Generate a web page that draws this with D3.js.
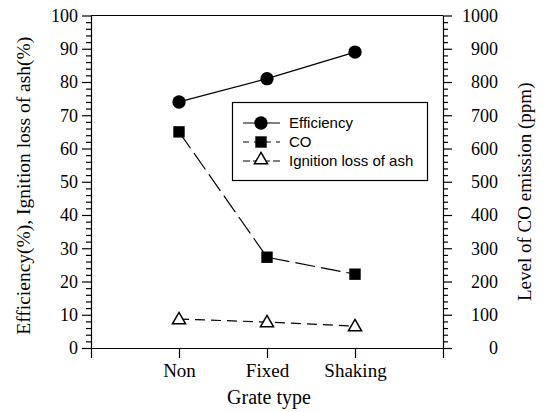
<!DOCTYPE html>
<html>
<head>
<meta charset="utf-8">
<script src="https://cdn.jsdelivr.net/npm/d3@7"></script>
<style>
  body { margin: 0; background: #fff; }
  svg text { font-family: "Liberation Serif", "Times New Roman", serif; fill: #000; }
  svg .legend text { font-family: "Liberation Sans", Arial, sans-serif; }
</style>
</head>
<body>
<div id="chart"></div>
<script>
var categories = ["Non", "Fixed", "Shaking"];
var efficiency = [74, 81, 89];
var co = [650, 273, 222];
var ashLoss = [8.7, 7.8, 6.6];
var leftTicks = [0, 10, 20, 30, 40, 50, 60, 70, 80, 90, 100];
var rightTicks = [0, 100, 200, 300, 400, 500, 600, 700, 800, 900, 1000];

var W = 543, H = 412;
var plot = {left: 91, right: 443, top: 15.5, bottom: 348};

var svg = d3.select("#chart").append("svg")
    .attr("width", W)
    .attr("height", H);

var xScale = d3.scaleLinear().domain([0, 4]).range([plot.left, plot.right]),
    yLeft = d3.scaleLinear().domain([0, 100]).range([plot.bottom, plot.top]),
    yRight = d3.scaleLinear().domain([0, 1000]).range([plot.bottom, plot.top]);

// top frame line
svg.append("line")
   .attr("x1", plot.left).attr("x2", plot.right)
   .attr("y1", plot.top).attr("y2", plot.top)
   .attr("stroke", "#000").attr("stroke-width", 1.2);

// minor ticks
var minorL = d3.range(0, 101, 2).filter(function(d) { return d % 10 != 0; });
var minorR = d3.range(0, 1001, 20).filter(function(d) { return d % 100 != 0; });

svg.append("g")
   .attr("transform", "translate(" + plot.left + ",0)")
   .call(d3.axisLeft(yLeft).tickValues(minorL).tickSize(5).tickFormat(""))
   .call(function(g) { g.select(".domain").remove(); });

svg.append("g")
   .attr("transform", "translate(" + plot.right + ",0)")
   .call(d3.axisRight(yRight).tickValues(minorR).tickSize(5).tickFormat(""))
   .call(function(g) { g.select(".domain").remove(); });

var yy = svg.append("g")
   .attr("class", "yaxis")
   .attr("transform", "translate(" + plot.left + ",0)")
   .call(d3.axisLeft(yLeft).tickValues(leftTicks).tickSize(9).tickSizeOuter(0).tickPadding(4)
         .tickFormat(d3.format("d")));

var yr = svg.append("g")
   .attr("class", "yaxis2")
   .attr("transform", "translate(" + plot.right + ",0)")
   .call(d3.axisRight(yRight).tickValues(rightTicks).tickSize(9).tickSizeOuter(0)
         .tickFormat(d3.format("d")));

yr.selectAll(".tick text")
  .attr("x", 55)
  .style("text-anchor", "end");

var xx = svg.append("g")
   .attr("class", "xaxis")
   .attr("transform", "translate(0," + plot.bottom + ")")
   .call(d3.axisBottom(xScale).tickValues([0, 1, 2, 3, 4]).tickSize(10).tickSizeOuter(0).tickPadding(6)
         .tickFormat(function(d) { return categories[d - 1] || ""; }));

svg.selectAll(".domain, .tick line").attr("stroke", "#000").attr("stroke-width", 1.2);
svg.selectAll(".tick text")
   .style("font-family", "'Liberation Serif', 'Times New Roman', serif")
   .style("font-size", "18px");
xx.selectAll(".tick text").style("font-size", "19px");

// axis titles
svg.append("text")
   .text("Grate type")
   .attr("x", (xScale(0) + xScale(4)) / 2 + 2)
   .attr("y", 404)
   .attr("font-size", 20)
   .style("text-anchor", "middle");

svg.append("text")
   .text("Efficiency(%), Ignition loss of ash(%)")
   .attr("transform", "translate(30," + ((plot.top + plot.bottom) / 2 + 4) + ") rotate(-90)")
   .attr("font-size", 19.5)
   .style("text-anchor", "middle");

svg.append("text")
   .text("Level of CO emission (ppm)")
   .attr("transform", "translate(531," + ((plot.top + plot.bottom) / 2 + 10) + ") rotate(-90)")
   .attr("font-size", 19)
   .style("text-anchor", "middle");

// series
var idx = [0, 1, 2];
var lineL = function(vals) {
  return d3.line().x(function(i) { return xScale(i + 1); }).y(function(i) { return yLeft(vals[i]); })(idx);
};
var lineR = function(vals) {
  return d3.line().x(function(i) { return xScale(i + 1); }).y(function(i) { return yRight(vals[i]); })(idx);
};

svg.append("path").attr("d", lineL(efficiency))
   .attr("fill", "none").attr("stroke", "#000").attr("stroke-width", 1.2);
svg.append("path").attr("d", lineR(co))
   .attr("fill", "none").attr("stroke", "#000").attr("stroke-width", 1.2)
   .attr("stroke-dasharray", "20,6");
svg.append("path").attr("d", lineL(ashLoss))
   .attr("fill", "none").attr("stroke", "#000").attr("stroke-width", 1.2)
   .attr("stroke-dasharray", "10,6");

var circle = d3.symbol().type(d3.symbolCircle).size(140),
    square = d3.symbol().type(d3.symbolSquare).size(130),
    triangle = d3.symbol().type(d3.symbolTriangle).size(75);

svg.append("g").selectAll("path").data(idx).enter().append("path")
   .attr("d", circle)
   .attr("transform", function(i) { return "translate(" + xScale(i + 1) + "," + yLeft(efficiency[i]) + ")"; })
   .attr("fill", "#000");

svg.append("g").selectAll("path").data(idx).enter().append("path")
   .attr("d", square)
   .attr("transform", function(i) { return "translate(" + xScale(i + 1) + "," + yRight(co[i]) + ")"; })
   .attr("fill", "#000");

svg.append("g").selectAll("path").data(idx).enter().append("path")
   .attr("d", triangle)
   .attr("transform", function(i) { return "translate(" + xScale(i + 1) + "," + (yLeft(ashLoss[i]) + 1) + ")"; })
   .attr("fill", "#fff").attr("stroke", "#000").attr("stroke-width", 1.5);

// legend
var legend = svg.append("g").attr("class", "legend");
legend.append("rect")
   .attr("x", 232.5).attr("y", 102.5).attr("width", 195).attr("height", 78)
   .attr("fill", "#fff").attr("stroke", "#000").attr("stroke-width", 1.2);

var legItems = [
  {name: "Efficiency", sym: circle, dash: null, fill: "#000"},
  {name: "CO", sym: square, dash: "6,5", fill: "#000"},
  {name: "Ignition loss of ash", sym: triangle, dash: "7,3", fill: "#fff"}
];

legItems.forEach(function(d, i) {
  var y = 123 + i * 19;
  legend.append("line")
     .attr("x1", 243).attr("x2", 280).attr("y1", y).attr("y2", y)
     .attr("stroke", "#000").attr("stroke-width", 1.2)
     .attr("stroke-dasharray", d.dash);
  legend.append("path")
     .attr("d", d.sym)
     .attr("transform", "translate(261," + (i == 2 ? y - 1 : y) + ")")
     .attr("fill", d.fill).attr("stroke", i == 2 ? "#000" : "none").attr("stroke-width", 1.5);
  legend.append("text")
     .text(d.name)
     .attr("x", 289).attr("y", y + 5)
     .attr("font-size", 15);
});
</script>
</body>
</html>
